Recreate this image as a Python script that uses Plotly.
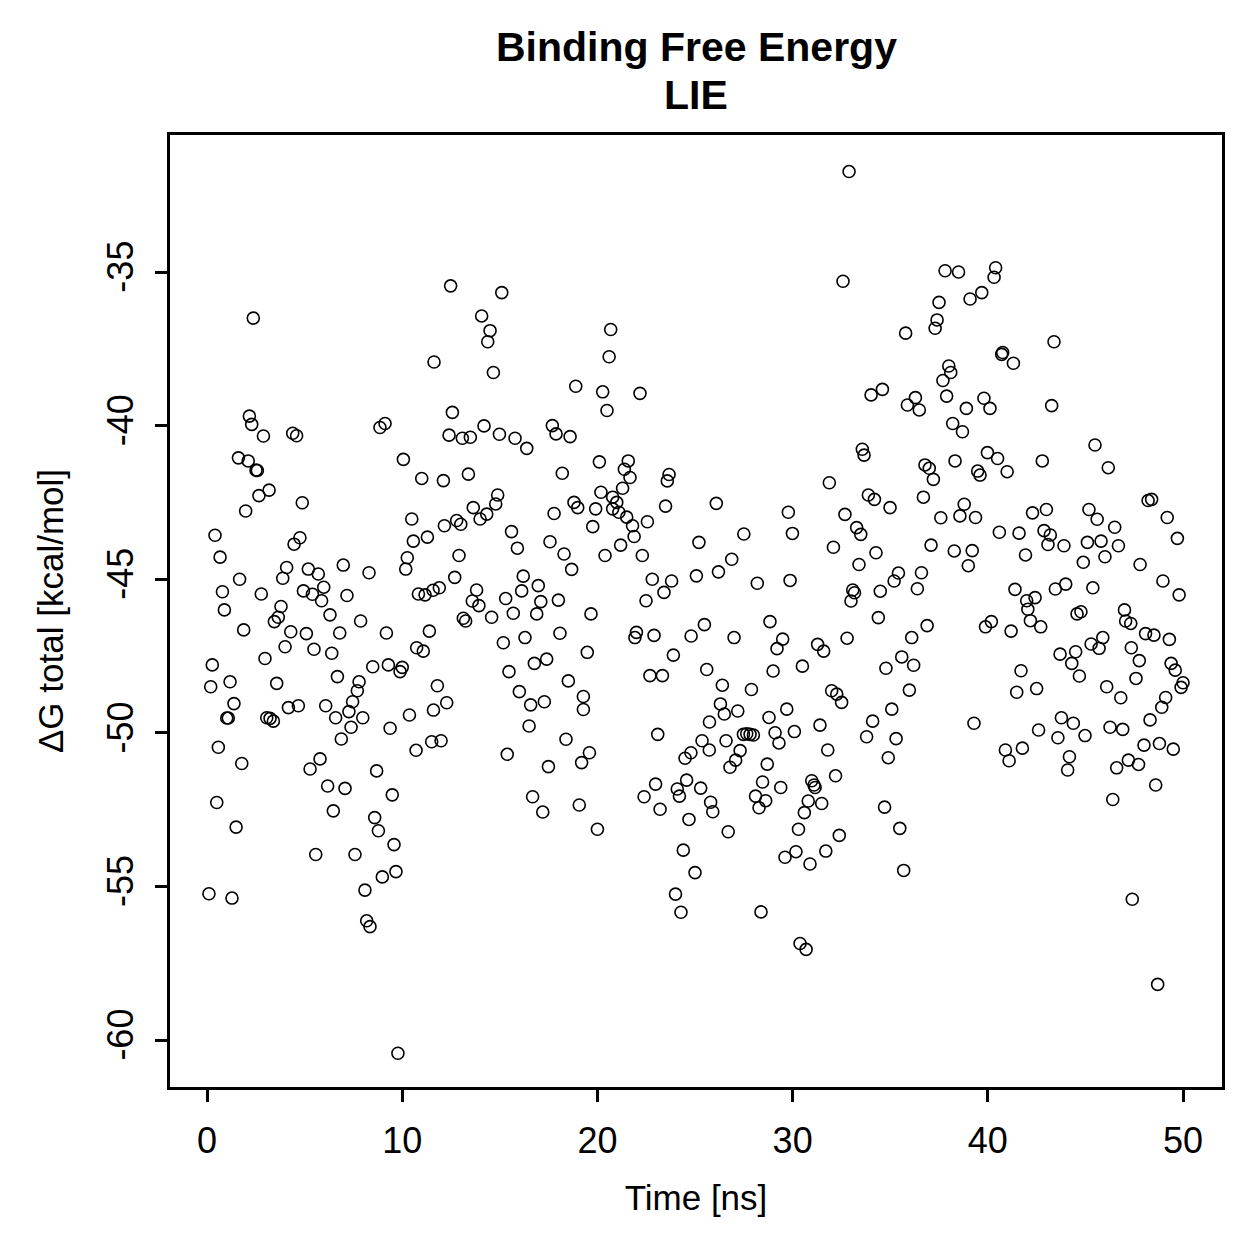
import plotly.graph_objects as go

# (time [ns], dG total [kcal/mol])
time_ns = [
 2.37, 11.63, 2.17, 2.29, 2.89, 4.39, 4.59, 8.86, 9.12, 1.61, 2.11, 10.06,
 12.48, 15.1, 14.07, 14.5, 14.38, 14.67, 20.68, 20.6, 18.89, 20.27, 22.18, 20.49, 12.57, 14.19, 12.4, 13.08, 13.49, 14.98, 15.78, 16.38, 17.69, 17.88, 18.6, 20.1, 21.58,
 32.89, 32.58, 37.81, 38.5, 37.5, 37.4, 37.3, 35.79, 38.0, 38.1, 37.7, 37.89, 34.02, 34.6, 36.29, 35.88, 36.49, 38.2, 38.7, 38.9, 33.57, 33.66, 38.32,
 40.4, 40.32, 39.69, 39.09, 43.39, 40.76, 40.71, 41.31, 39.8, 40.11, 43.27, 45.49, 39.98, 40.5, 42.79,
 2.51, 2.58, 11.0, 3.18, 2.66, 4.88, 1.98, 10.49, 11.29, 10.57, 0.41, 4.76, 4.46, 10.26, 10.18, 0.67, 4.08, 3.88, 5.19, 5.7, 6.98, 8.3, 1.67, 0.79, 2.78, 4.94, 5.4, 5.98, 5.87, 7.17, 10.83, 11.17, 11.58, 0.89, 3.79, 3.65, 3.45, 6.3, 7.87, 1.88, 4.29, 5.09, 6.8, 9.19, 11.39, 4.0, 5.48, 6.39, 10.74, 11.08, 0.27, 2.97, 8.49, 9.29, 10.0, 9.89, 1.18, 0.19, 3.57, 6.68, 7.79, 7.7, 7.46, 7.27, 7.98, 7.38, 6.88, 9.38, 10.37, 10.71, 1.38, 1.01, 1.09, 3.06, 3.23, 3.4, 4.17, 4.68, 6.08, 6.59, 0.58, 1.78, 5.79, 5.28, 8.69,
 6.18, 7.07, 9.49, 0.5, 6.47, 1.49, 8.59, 8.78, 9.58, 5.57, 7.58, 9.68, 8.98, 8.09, 0.1, 1.28, 8.18, 8.35, 9.78,
 21.38, 21.67, 23.67, 23.58, 13.39, 12.11, 18.2, 21.29, 20.18, 20.78, 20.99, 20.78, 21.1, 21.5, 21.8, 21.88, 22.56, 23.49, 19.91, 19.76, 18.8, 18.99, 17.78, 14.89, 14.79, 14.33, 13.99, 13.64, 12.79, 13.0, 12.16, 15.6, 15.9, 17.57, 18.29, 18.68, 20.39, 21.19, 22.3, 12.91, 12.69, 11.9, 16.2, 16.97, 16.12, 18.0, 17.1, 16.89, 15.69, 15.3, 13.81, 13.59, 13.93, 14.58, 13.13, 13.25, 19.67, 18.08, 16.29, 15.18, 19.48, 17.4, 16.77, 15.47, 18.51, 22.0, 21.92, 22.9, 24.8, 23.89, 22.69, 23.33, 22.49, 22.81, 23.41, 23.8, 11.8, 12.28, 11.6, 11.51, 11.99, 16.0, 16.58, 17.28, 19.28, 19.28, 16.5, 18.39, 23.09, 15.38, 17.49, 19.19, 19.59, 24.49, 24.79,
 16.68, 17.2, 19.07, 20.0, 22.39, 22.98, 24.57, 24.09, 24.2, 23.21, 25.29, 24.69, 24.4, 25.0, 24.0, 24.28,
 36.78, 37.0, 37.21, 36.7, 31.88, 33.88, 34.19, 34.99, 32.68, 33.28, 33.49, 37.59, 26.09, 29.78, 29.99, 27.5, 25.2, 32.09, 34.27, 33.4, 37.09, 38.28, 26.88, 26.2, 25.07, 28.19, 29.87, 33.08, 33.17, 32.99, 34.49, 35.2, 35.42, 36.6, 36.39, 34.39, 36.89, 36.1, 35.59, 36.2, 34.78, 35.98, 28.84, 29.49, 29.2, 27.0, 25.48, 31.28, 31.59, 32.79, 30.5, 29.0, 25.6, 26.4, 27.89, 26.3, 26.5, 27.19, 25.74, 25.36, 25.73, 26.59, 27.48, 27.65, 27.82, 27.99, 28.79, 29.7, 29.1, 29.3, 30.09, 31.4, 32.0, 32.26, 32.51, 34.1, 35.08, 33.79, 35.3, 34.9, 31.8, 27.31, 27.08, 26.79, 28.7,
 46.17, 39.48, 39.6, 40.99, 48.21, 48.39, 49.19, 49.71, 38.79, 38.57, 39.37, 42.29, 43.0, 45.18, 45.6, 46.5, 47.8, 40.59, 41.6, 42.88, 43.2, 43.08, 43.9, 45.1, 45.8, 46.69, 46.0, 44.89, 39.2, 39.0, 41.93, 41.39, 41.99, 42.42, 42.05, 42.18, 42.71, 43.46, 43.99, 45.38, 48.97, 49.8, 39.88, 40.18, 41.19, 44.57, 44.77, 47.0, 47.06, 47.32, 48.08, 48.51, 49.3, 45.29, 45.89, 45.7, 47.35, 47.76, 43.7, 44.5, 44.3, 44.69, 47.59, 49.39, 49.6, 50.0, 49.9, 41.7, 41.48, 42.5, 46.09, 46.81, 49.11, 48.91, 48.31, 39.29, 43.77, 44.38, 42.6, 43.59, 44.98, 46.26, 46.91, 48.0, 48.79, 49.5, 40.9, 41.77, 41.09, 44.18, 44.09, 46.6, 47.2, 47.72,
 28.46, 29.39, 30.98, 31.15, 31.1, 32.2, 25.8, 25.91, 28.1, 28.62, 28.28, 26.7, 30.8, 31.49, 30.6, 30.3, 32.39, 31.7, 30.17, 29.61, 30.89, 34.71, 35.49, 35.69, 28.38, 30.38, 30.69,
 48.6, 46.4, 47.4, 48.7,
]

dg_total = [
 -36.5, -37.93, -39.69, -39.96, -40.34, -40.25, -40.33, -40.06, -39.93, -41.05, -41.15, -41.1,
 -35.45, -35.67, -36.43, -36.91, -37.27, -38.27, -36.87, -37.76, -38.72, -38.9, -38.95, -39.51, -39.57, -40.01, -40.31, -40.41, -40.38, -40.28, -40.41, -40.74, -40.0, -40.27, -40.36, -41.18, -41.15,
 -31.73, -35.3, -34.96, -35.0, -35.99, -36.56, -36.83, -36.99, -38.06, -38.27, -38.53, -39.04, -39.0, -38.82, -39.09, -39.33, -39.49, -39.93, -40.2, -39.44, -40.77, -40.96, -41.15,
 -34.86, -35.17, -35.67, -35.88, -37.27, -37.62, -37.68, -37.97, -39.11, -39.44, -39.35, -40.63, -40.88, -41.07, -41.15,
 -41.45, -41.46, -41.72, -42.1, -42.28, -42.51, -42.78, -43.04, -43.63, -43.76, -43.57, -43.65, -43.86, -44.3, -44.67, -44.28, -44.62, -44.97, -44.67, -44.83, -44.54, -44.79, -45.0, -45.41, -45.48, -45.38, -45.49, -45.26, -45.7, -45.53, -45.48, -45.51, -45.36, -46.0, -45.89, -46.24, -46.38, -46.16, -46.36, -46.65, -46.71, -46.77, -46.75, -46.75, -46.69, -47.2, -47.28, -47.41, -47.23, -47.34, -47.79, -47.58, -47.85, -47.79, -47.87, -48.01, -48.34, -48.5, -48.39, -48.17, -48.34, -48.63, -48.99, -49.31, -49.51, -49.82, -50.2, -49.85, -49.42, -50.57, -49.05, -49.52, -49.52, -49.51, -49.53, -49.62, -49.18, -49.12, -49.12, -49.51, -50.47, -51.0, -50.85, -51.18, -51.24,
 -51.73, -51.81, -52.02, -52.27, -52.54, -53.07, -52.76, -53.19, -53.64, -53.96, -53.96, -54.52, -54.69, -55.12, -55.24, -55.38, -56.12, -56.31, -60.43,
 -41.42, -41.69, -41.59, -41.8, -41.58, -41.79, -41.55, -42.04, -42.17, -42.33, -42.5, -42.71, -42.82, -42.98, -43.26, -43.61, -43.13, -42.62, -42.71, -43.29, -42.5, -42.67, -42.86, -42.26, -42.55, -42.88, -43.04, -42.67, -43.09, -43.21, -43.26, -43.45, -43.99, -43.78, -44.18, -44.68, -44.23, -43.89, -44.23, -44.23, -44.94, -45.28, -44.9, -45.21, -45.38, -45.68, -45.73, -46.13, -46.11, -45.63, -45.35, -45.71, -45.86, -46.24, -46.27, -46.36, -46.13, -46.76, -46.9, -47.07, -47.38, -47.6, -47.74, -48.01, -48.31, -46.73, -46.9, -46.83, -46.85, -47.47, -48.14, -48.14, -45.7, -45.0, -45.43, -45.06, -48.47, -49.02, -49.26, -50.29, -50.26, -48.66, -49.09, -48.99, -48.82, -49.24, -49.78, -50.21, -50.05, -50.7, -51.1, -50.97, -50.65, -50.83, -50.65,
 -52.08, -52.58, -52.35, -53.14, -52.08, -51.67, -51.54, -51.83, -52.06, -52.49, -51.8, -52.82, -53.82, -54.55, -55.25, -55.84,
 -41.28, -41.39, -41.75, -42.33, -41.86, -42.26, -42.4, -42.67, -42.89, -43.32, -43.54, -43.0, -42.53, -42.82, -43.51, -43.53, -43.8, -43.96, -44.14, -44.52, -43.89, -44.08, -44.35, -44.76, -44.89, -45.13, -45.04, -45.35, -45.44, -45.71, -45.39, -45.06, -44.8, -44.79, -45.31, -46.25, -46.51, -46.9, -47.53, -47.8, -47.9, -48.61, -46.38, -46.95, -47.26, -46.9, -46.48, -47.12, -47.34, -46.92, -47.83, -47.99, -47.94, -48.45, -48.59, -49.06, -49.39, -49.29, -49.65, -50.26, -50.56, -50.26, -50.05, -50.03, -50.05, -50.07, -49.5, -49.23, -50.0, -50.33, -49.96, -49.75, -48.63, -48.74, -49.01, -49.62, -49.23, -50.13, -50.19, -50.81, -50.56, -50.58, -50.89, -51.12, -51.02,
 -41.37, -41.48, -41.61, -41.5, -42.44, -42.4, -42.99, -43.67, -42.56, -42.94, -42.99, -42.84, -42.73, -42.73, -43.05, -43.31, -44.52, -43.47, -43.5, -43.42, -43.56, -43.87, -43.91, -43.8, -43.76, -43.91, -44.27, -44.45, -44.07, -44.56, -44.21, -45.33, -45.7, -45.6, -45.98, -46.35, -46.55, -45.32, -45.16, -45.28, -45.06, -45.51, -46.55, -46.38, -46.69, -46.13, -46.06, -46.0, -46.36, -46.44, -46.77, -46.82, -46.96, -47.11, -46.9, -47.25, -47.23, -47.65, -47.44, -47.36, -47.74, -48.15, -48.23, -47.74, -47.96, -48.37, -48.52, -47.98, -48.68, -48.56, -48.5, -48.86, -48.85, -49.17, -49.58, -49.69, -49.51, -49.69, -49.91, -50.16, -50.09, -49.82, -49.89, -50.4, -50.35, -50.53, -50.56, -50.5, -50.91, -50.78, -51.21, -51.14, -50.89, -51.03,
 -51.6, -51.78, -51.56, -51.78, -51.7, -51.4, -52.26, -52.57, -52.06, -52.21, -52.44, -53.22, -52.22, -52.3, -52.6, -53.14, -53.34, -53.85, -53.87, -54.05, -54.27, -52.42, -53.11, -54.48, -55.83, -56.86, -57.05,
 -51.7, -52.17, -55.42, -58.19,
]

x_ticks = [0, 10, 20, 30, 40, 50]
y_ticks = [-60, -55, -50, -45, -40, -35]
title_lines = ["Binding Free Energy", "LIE"]

FONT = "Liberation Sans, Arial, Helvetica, sans-serif"

fig = go.Figure(go.Scatter(
    x=time_ns, y=dg_total, mode="markers",
    marker=dict(symbol="circle-open", size=12, color="black",
                line=dict(color="black", width=1.6)),
    showlegend=False,
))

fig.update_layout(
    width=1259, height=1259,
    margin=dict(l=170, r=37, t=135, b=172, pad=0),
    paper_bgcolor="white", plot_bgcolor="white",
    font=dict(family=FONT, color="black"),
)

# two-line bold title above the plot box (centered over the plot area)
for txt, ypos in zip(title_lines, [1.0924, 1.0420]):
    fig.add_annotation(text=f"<b>{txt}</b>", xref="paper", yref="paper",
                       x=0.5, y=ypos, xanchor="center", yanchor="middle",
                       showarrow=False, font=dict(size=41, family=FONT, color="black"))

fig.update_xaxes(
    range=[-1.896, 51.996], tickvals=x_ticks, ticktext=[str(v) for v in x_ticks],
    showgrid=False, zeroline=False, showline=True, linecolor="black", linewidth=2.5,
    mirror=True, ticks="outside", ticklen=12, tickwidth=2.5, tickcolor="black",
    tickfont=dict(size=36, family=FONT), ticklabelstandoff=8,
    title=dict(text="Time [ns]", font=dict(size=35, family=FONT), standoff=26),
)
fig.update_yaxes(
    range=[-61.53, -30.54], tickvals=y_ticks, ticktext=[str(v) for v in y_ticks],
    showgrid=False, zeroline=False, showline=True, linecolor="black", linewidth=2.5,
    mirror=True, ticks="outside", ticklen=12, tickwidth=2.5, tickcolor="black",
    tickangle=-90, tickfont=dict(size=36, family=FONT), ticklabelstandoff=8,
    title=dict(text="ΔG total [kcal/mol]", font=dict(size=35, family=FONT), standoff=26),
)

fig.write_html("out.html")
